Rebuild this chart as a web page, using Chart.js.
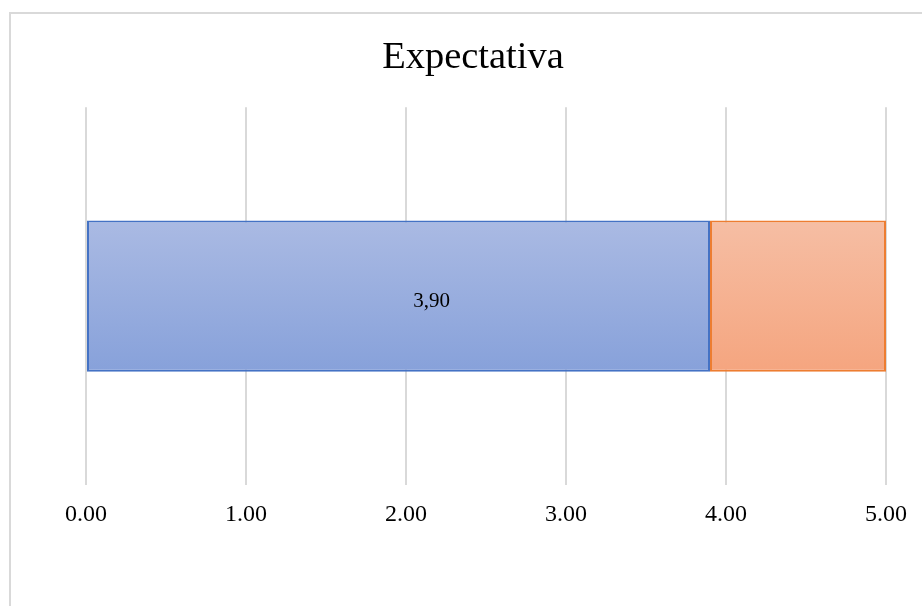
<!DOCTYPE html>
<html>
<head>
<meta charset="utf-8">
<script src="https://cdn.jsdelivr.net/npm/chart.js@4/dist/chart.umd.min.js"></script>
<style>
  html, body { margin: 0; padding: 0; background: #fff; overflow: hidden; }
  #wrap { position: relative; width: 922px; height: 606px; }
  #frame { position: absolute; left: 9px; top: 12px; width: 1000px; height: 700px;
           border: 2px solid #d9d9d9; box-sizing: border-box; }
  #c { position: absolute; left: 0; top: 0; }
</style>
</head>
<body>
<div id="wrap">
  <div id="frame"></div>
  <canvas id="c" width="922" height="606"></canvas>
</div>
<script>
// Chart content
const chartTitle = 'Expectativa';
const categories = ['Expectativa'];
const seriesNames = ['Expectativa', 'Resto'];
const expectativaValues = [3.90];
const restoValues = [1.10];
const axisTicks = [0, 1, 2, 3, 4, 5];

const serif = '"Liberation Serif", "Times New Roman", serif';

function verticalGradient(ctx, top, bottom) {
  const chart = ctx.chart;
  const area = chart.chartArea;
  if (!area) return top;
  const g = chart.ctx.createLinearGradient(0, area.top, 0, area.bottom);
  g.addColorStop(0.3, top);
  g.addColorStop(0.7, bottom);
  return g;
}

// Writes the value inside the first series' bar, with a decimal comma
const valueLabels = {
  id: 'valueLabels',
  afterDatasetsDraw(chart) {
    const c = chart.ctx;
    const meta = chart.getDatasetMeta(0);
    const data = chart.data.datasets[0].data;
    c.save();
    c.font = '21px ' + serif;
    c.fillStyle = '#000';
    c.textAlign = 'center';
    c.textBaseline = 'middle';
    meta.data.forEach((bar, i) => {
      const cx = (bar.x + bar.base) / 2 + 33;
      c.fillText(data[i].toFixed(2).replace('.', ','), cx, bar.y + 5);
    });
    c.restore();
  }
};

new Chart(document.getElementById('c'), {
  type: 'bar',
  data: {
    labels: categories,
    datasets: [
      {
        label: seriesNames[0],
        data: expectativaValues,
        backgroundColor: ctx => verticalGradient(ctx, '#aabae3', '#87a1da'),
        borderColor: '#4472c4',
        borderWidth: 2,
        borderSkipped: false,
        barPercentage: 0.4,
        categoryPercentage: 1.0
      },
      {
        label: seriesNames[1],
        data: restoValues,
        backgroundColor: ctx => verticalGradient(ctx, '#f6bea4', '#f5a57f'),
        borderColor: '#ed7d31',
        borderWidth: 2,
        borderSkipped: false,
        barPercentage: 0.4,
        categoryPercentage: 1.0
      }
    ]
  },
  options: {
    indexAxis: 'y',
    responsive: false,
    animation: false,
    layout: { padding: { left: 60, right: 36, top: 0, bottom: 62 } },
    plugins: {
      legend: { display: false },
      tooltip: { enabled: false },
      title: {
        display: true,
        text: chartTitle,
        color: '#000',
        font: { family: serif, size: 38.5, weight: 'normal' },
        padding: { top: 35, bottom: 26 }
      }
    },
    scales: {
      x: {
        stacked: true,
        min: axisTicks[0],
        max: axisTicks[axisTicks.length - 1],
        afterBuildTicks: axis => { axis.ticks = axisTicks.map(v => ({ value: v })); },
        grid: { color: '#d9d9d9', lineWidth: 2, drawTicks: false },
        border: { display: false },
        ticks: {
          color: '#000',
          padding: 15,
          maxRotation: 0,
          font: { family: serif, size: 24 },
          callback: v => Number(v).toFixed(2)
        }
      },
      y: {
        stacked: true,
        display: true,
        grid: { display: false, drawTicks: false },
        border: { display: false },
        ticks: { display: false },
        afterFit: scale => { scale.width = 26; }
      }
    }
  },
  plugins: [valueLabels]
});
</script>
</body>
</html>
